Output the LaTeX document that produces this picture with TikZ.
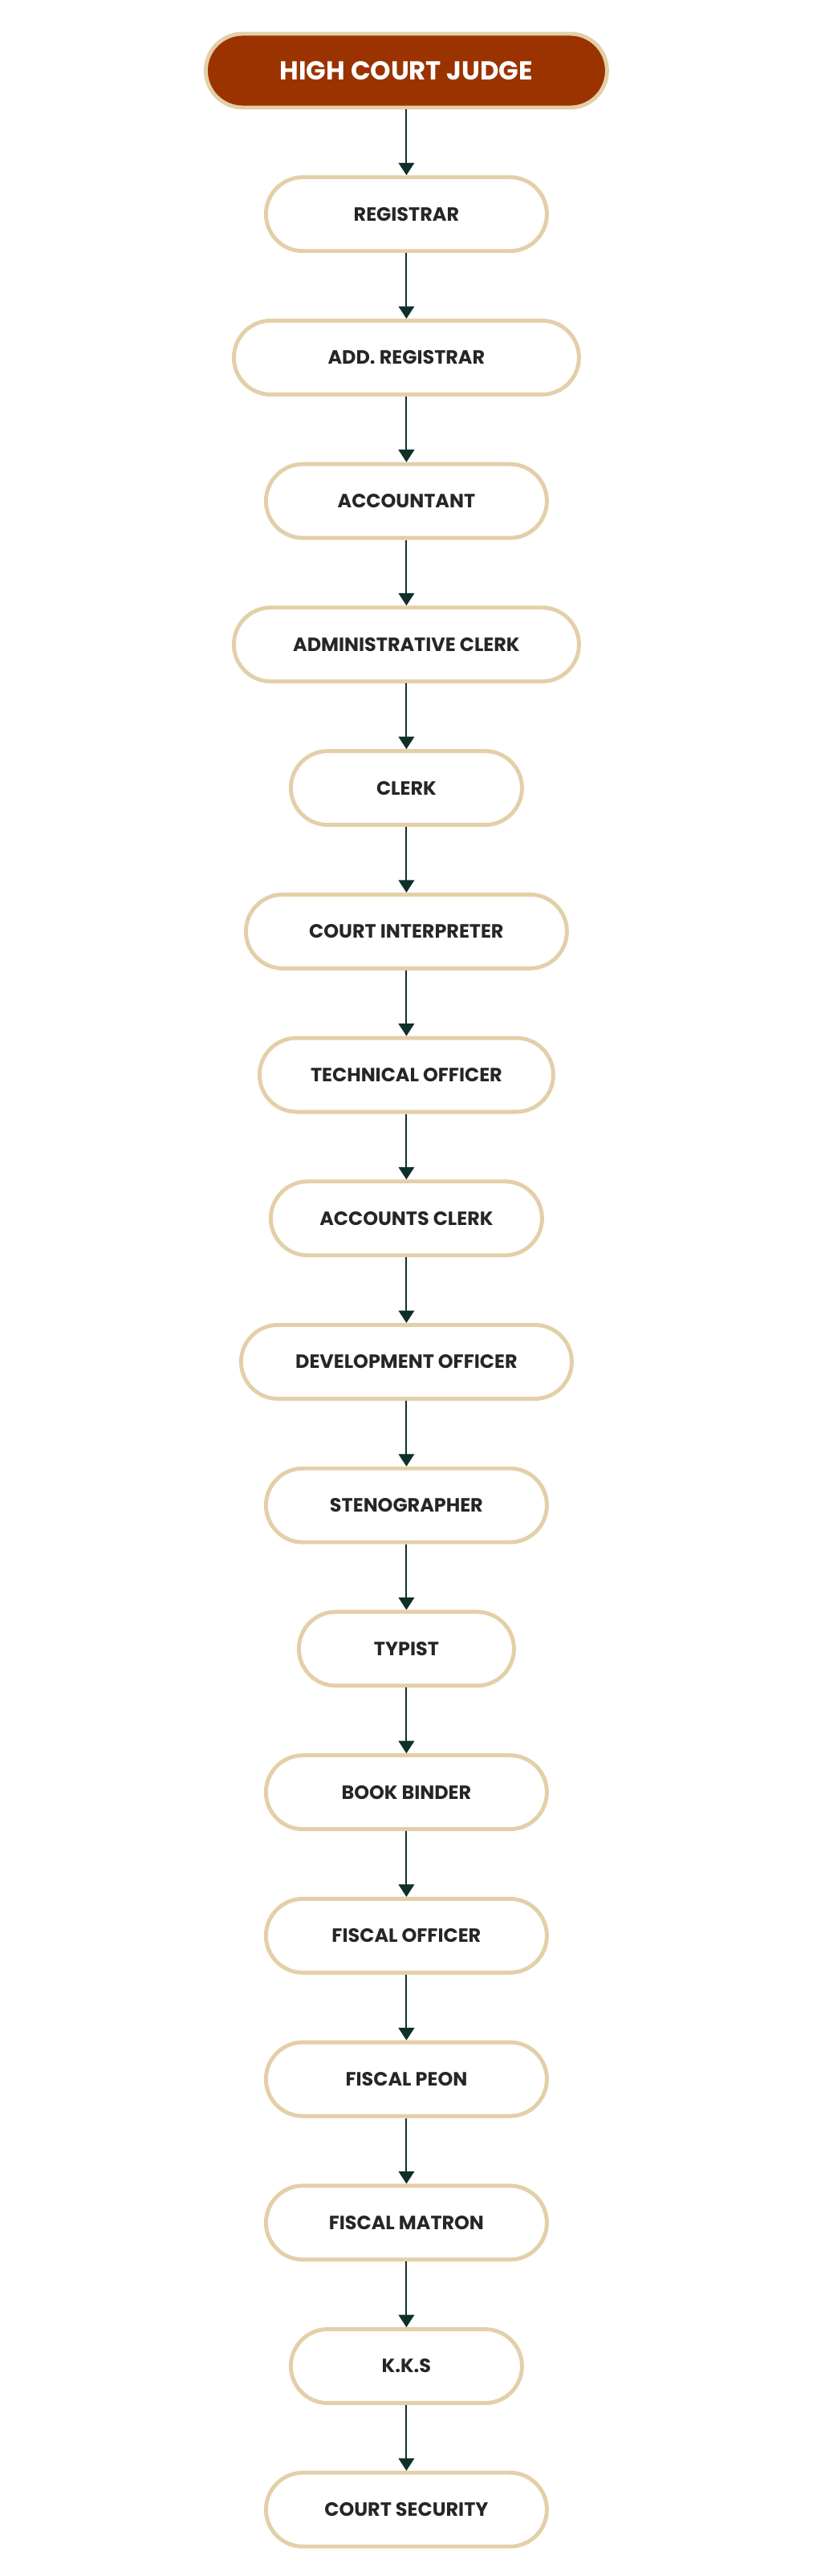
\documentclass[tikz,border=0pt]{standalone}
\usepackage{fontspec}
\setmainfont{Poppins}
\usepackage{xcolor}
\usetikzlibrary{positioning, arrows.meta}

\definecolor{judgebrown}{HTML}{9A3300}
\definecolor{boxbeige}{HTML}{E3CFA8}
\definecolor{arrowgreen}{HTML}{0F302A}

\begin{document}
\begin{tikzpicture}[
        node distance=2.045cm,
        post/.style={rectangle, rounded corners=1.15cm, draw=boxbeige, line width=3.5pt, fill=white,
            minimum height=2.3cm, text centered, font=\fontsize{17}{19}\selectfont\bfseries, text=black!85},
        head/.style={post, fill=judgebrown, text=white, minimum width=12.5cm, font=\fontsize{23}{27}\selectfont\bfseries},
        link/.style={-{Triangle[width=14pt, length=11pt]}, draw=arrowgreen, line width=1.3pt}
    ]
        \useasboundingbox (0,0) rectangle (25.325,-80.225);
        % Nodes
        \node (judge) [head] at (12.66,-2.2) {HIGH COURT JUDGE};
        \node (registrar) [post, minimum width=8.75cm, below=of judge] {REGISTRAR};
        \node (addreg) [post, minimum width=10.75cm, below=of registrar] {ADD. REGISTRAR};
        \node (accountant) [post, minimum width=8.75cm, below=of addreg] {ACCOUNTANT};
        \node (adminclerk) [post, minimum width=10.75cm, below=of accountant] {ADMINISTRATIVE CLERK};
        \node (clerk) [post, minimum width=7.2cm, below=of adminclerk] {CLERK};
        \node (interpreter) [post, minimum width=10cm, below=of clerk] {COURT INTERPRETER};
        \node (technical) [post, minimum width=9.15cm, below=of interpreter] {TECHNICAL OFFICER};
        \node (accclerk) [post, minimum width=8.45cm, below=of technical] {ACCOUNTS CLERK};
        \node (development) [post, minimum width=10.3cm, below=of accclerk] {DEVELOPMENT OFFICER};
        \node (steno) [post, minimum width=8.75cm, below=of development] {STENOGRAPHER};
        \node (typist) [post, minimum width=6.7cm, below=of steno] {TYPIST};
        \node (binder) [post, minimum width=8.75cm, below=of typist] {BOOK BINDER};
        \node (fiscalofficer) [post, minimum width=8.75cm, below=of binder] {FISCAL OFFICER};
        \node (fiscalpeon) [post, minimum width=8.75cm, below=of fiscalofficer] {FISCAL PEON};
        \node (matron) [post, minimum width=8.75cm, below=of fiscalpeon] {FISCAL MATRON};
        \node (kks) [post, minimum width=7.2cm, below=of matron] {K.K.S};
        \node (security) [post, minimum width=8.75cm, below=of kks] {COURT SECURITY};

        % Arrows
        \foreach \a/\b in {judge/registrar, registrar/addreg, addreg/accountant, accountant/adminclerk,
            adminclerk/clerk, clerk/interpreter, interpreter/technical, technical/accclerk,
            accclerk/development, development/steno, steno/typist, typist/binder,
            binder/fiscalofficer, fiscalofficer/fiscalpeon, fiscalpeon/matron, matron/kks, kks/security}
            \draw [link] (\a) -- (\b);
    \end{tikzpicture}
\end{document}
